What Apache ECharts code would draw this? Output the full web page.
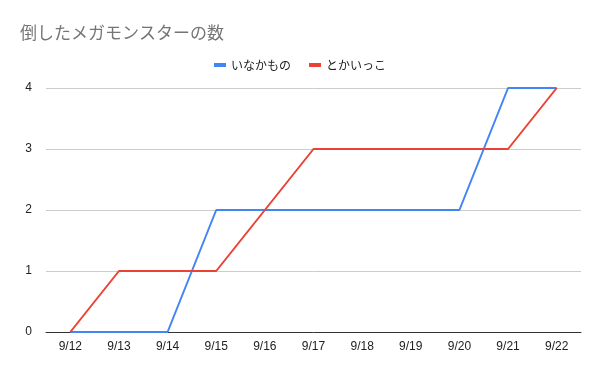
<!DOCTYPE html>
<html><head><meta charset="utf-8">
<script src="https://cdn.jsdelivr.net/npm/echarts@6/dist/echarts.min.js"></script>
<style>html,body{margin:0;padding:0;background:#fff}#c{width:600px;height:371px}</style>
</head><body><div id="c"></div>
<script>
const categories = ['9/12','9/13','9/14','9/15','9/16','9/17','9/18','9/19','9/20','9/21','9/22'];
const inakamono = [0,0,0,2,2,2,2,2,2,4,4];
const tokaikko = [0,1,1,1,2,3,3,3,3,3,4];
const yTicks = [0,1,2,3,4];
const font = '"Noto Sans CJK JP", Arial, sans-serif';
const chart = echarts.init(document.getElementById('c'));
chart.setOption({
  animation:false,
  title:{text:'倒したメガモンスターの数',left:15,top:19,textStyle:{fontFamily:font,fontSize:17,fontWeight:'normal',color:'#757575'}},
  legend:{top:54,left:'center',itemWidth:12,itemHeight:4,itemGap:18,icon:'rect',
    textStyle:{fontFamily:font,fontSize:12,color:'#222'},
    data:['いなかもの','とかいっこ']},
  grid:{left:46,right:19,top:88,bottom:39},
  xAxis:{type:'category',data:categories,boundaryGap:true,
    axisLine:{lineStyle:{color:'#333',width:1}},axisTick:{show:false},
    axisLabel:{fontFamily:'Arial, "Liberation Sans"',fontSize:12,color:'#222',margin:9}},
  yAxis:{type:'value',min:yTicks[0],max:yTicks[yTicks.length-1],interval:1,
    axisLine:{show:false},axisTick:{show:false},
    splitLine:{lineStyle:{color:'#cccccc'}},
    axisLabel:{fontFamily:'Arial, "Liberation Sans"',fontSize:12,color:'#222',margin:14}},
  series:[
    {name:'いなかもの',type:'line',data:inakamono,symbol:'none',lineStyle:{width:2,color:'#4285F4'},itemStyle:{color:'#4285F4'}},
    {name:'とかいっこ',type:'line',data:tokaikko,symbol:'none',lineStyle:{width:2,color:'#EA4335'},itemStyle:{color:'#EA4335'}}
  ]
});
</script></body></html>
